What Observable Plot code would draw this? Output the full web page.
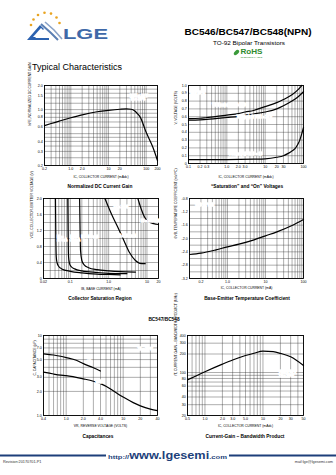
<!DOCTYPE html>
<html><head><meta charset="utf-8">
<script src="https://cdn.jsdelivr.net/npm/d3@7"></script>
<script src="https://cdn.jsdelivr.net/npm/@observablehq/plot@0.6"></script>
<style>
html,body{margin:0;padding:0;background:#fff}
#page{position:relative;width:336px;height:475px;overflow:hidden;background:#fff;font-family:Arial,"Liberation Sans",sans-serif;color:#000}
.cap{position:absolute;white-space:nowrap;font-weight:bold;font-size:4.8px;line-height:1;transform:translate(-50%,-50%)}
#deco{position:absolute;left:0;top:0}
</style></head>
<body><div id="page">
<svg id="deco" width="336" height="475" font-family="Arial, 'Liberation Sans', sans-serif">
  <g fill="#e9a420">
    <circle cx="31" cy="25" r="1.3"/><circle cx="33.5" cy="19.5" r="1.3"/><circle cx="38" cy="15" r="1.3"/>
    <circle cx="44.5" cy="12.8" r="1.3"/><circle cx="51" cy="13.6" r="1.3"/><circle cx="56.5" cy="17.5" r="1.3"/>
    <circle cx="59.5" cy="23" r="1.3"/>
  </g>
  <polygon points="27,40 40,25 44,29 35,38 49,38 49,40" fill="#2c62b0"/>
  <polygon points="33,37 41,28 45,32 40,37" fill="#ffffff"/>
  <polyline points="41,24 51,33 58,40" fill="none" stroke="#5b7fb3" stroke-width="2"/>
  <polyline points="45,22 54,30 62,39" fill="none" stroke="#8aa3c8" stroke-width="1.6"/>
  <text x="63" y="39" font-size="15" font-weight="bold" fill="#3f69a8" textLength="45" lengthAdjust="spacingAndGlyphs">LGE</text>
  <text x="248" y="35" text-anchor="middle" font-size="8.6" font-weight="bold" textLength="127" lengthAdjust="spacingAndGlyphs">BC546/BC547/BC548(NPN)</text>
  <text x="249" y="44.5" text-anchor="middle" font-size="5.2" textLength="72" lengthAdjust="spacingAndGlyphs">TO-92 Bipolar Transistors</text>
  <ellipse cx="236.5" cy="52.5" rx="3.2" ry="1.9" transform="rotate(-45 236.5 52.5)" fill="#3a9a3a"/>
  <text x="240.5" y="54" font-size="7" font-weight="bold" fill="#2e8b2e" textLength="22" lengthAdjust="spacingAndGlyphs">RoHS</text>
  <text x="240.5" y="57.5" font-size="2.2" fill="#2e8b2e" textLength="22" lengthAdjust="spacingAndGlyphs">COMPLIANT</text>
  <text x="32" y="70" font-size="8.5" textLength="90" lengthAdjust="spacingAndGlyphs">Typical Characteristics</text>
  <line x1="0" y1="455.5" x2="106" y2="455.5" stroke="#1d3f7a" stroke-width="2"/>
  <line x1="229" y1="455.5" x2="336" y2="455.5" stroke="#1d3f7a" stroke-width="2"/>
  <text x="108" y="458.5" font-weight="bold" fill="#1d3f7a" textLength="119" lengthAdjust="spacingAndGlyphs"><tspan font-size="6">http://</tspan><tspan font-size="10">www.lgesemi</tspan><tspan font-size="6">.com</tspan></text>
  <text x="3" y="463" font-size="3.8" fill="#333">Revision:20170701-P1</text>
  <text x="333" y="463" font-size="3.8" fill="#333" text-anchor="end">mail:lge@lgesemi.com</text>
</svg>
<div class="cap" style="left:100px;top:186.5px">Normalized DC Current Gain</div>
<div class="cap" style="left:247px;top:186.5px">“Saturation” and “On” Voltages</div>
<div class="cap" style="left:100px;top:298.5px">Collector Saturation Region</div>
<div class="cap" style="left:247px;top:299px">Base-Emitter Temperature Coefficient</div>
<div class="cap" style="left:164px;top:320px">BC547/BC548</div>
<div class="cap" style="left:98px;top:436.5px">Capacitances</div>
<div class="cap" style="left:245px;top:436.5px">Current-Gain – Bandwidth Product</div>
</div>
<script>
// ---------- Fig 1: Normalized DC current gain ----------
const hfeIc   = [0.2, 0.3, 0.5, 1.0, 2.0, 5.0, 10, 20, 30, 40, 50, 60, 70, 100, 150, 200];
const hfeNorm = [0.63, 0.67, 0.72, 0.79, 0.86, 0.94, 0.98, 1.01, 1.02, 1.01, 0.96, 0.88, 0.80, 0.52, 0.34, 0.23];
const hfeXTicks = ["0.2","0.5","1.0","2.0","5.0","10","20","50","100","200"];
const hfeYTicks = ["0.2","0.3","0.4","0.6","0.8","1.0","1.5","2.0"];

// ---------- Fig 2: Saturation and On voltages ----------
const vbeSatIc = [0.1, 0.2, 0.3, 0.5, 1.0, 2.0, 3.0, 5.0, 10, 20, 30, 50, 70, 90];
const vbeSat   = [0.575, 0.58, 0.59, 0.60, 0.62, 0.64, 0.66, 0.68, 0.73, 0.78, 0.82, 0.88, 0.94, 1.0];
const vbeOnIc  = [0.1, 0.2, 0.3, 0.5, 1.0, 2.0, 3.0, 5.0, 10, 20, 30, 50, 70, 100];
const vbeOn    = [0.555, 0.56, 0.565, 0.575, 0.59, 0.605, 0.62, 0.635, 0.66, 0.70, 0.74, 0.80, 0.85, 0.92];
const vceSatIc = [0.1, 1.0, 5.0, 10, 20, 30, 40, 50, 60, 70, 80, 90, 100];
const vceSat   = [0.05, 0.05, 0.055, 0.06, 0.08, 0.10, 0.13, 0.16, 0.19, 0.24, 0.30, 0.38, 0.46];
const satXTicks = ["0.1","0.2","0.3","0.5","0.7","1.0","2.0","3.0","5.0","7.0","10","20","30","50","70","100"];
const satYTicks = ["0","0.1","0.2","0.3","0.4","0.5","0.6","0.7","0.8","0.9","1.0"];

// ---------- Fig 3: Collector saturation region ----------
const csIb10  = [0.041, 0.042, 0.043, 0.045, 0.05, 0.06, 0.1, 0.2, 0.5, 1.0, 2.0];
const csV10   = [2.0, 1.0, 0.55, 0.40, 0.30, 0.24, 0.18, 0.14, 0.11, 0.10, 0.09];
const csIb20  = [0.086, 0.088, 0.09, 0.095, 0.105, 0.13, 0.2, 0.5, 1.0, 3.0];
const csV20   = [2.0, 1.0, 0.55, 0.38, 0.30, 0.24, 0.19, 0.15, 0.13, 0.12];
const csIb50  = [0.175, 0.18, 0.185, 0.2, 0.23, 0.3, 0.5, 1.0, 2.0, 5.0];
const csV50   = [2.0, 1.2, 0.7, 0.45, 0.34, 0.27, 0.22, 0.19, 0.17, 0.16];
const csIb100 = [0.8, 1.2, 1.7, 2.5, 3.5, 5.0, 6.5, 9.0];
const csV100  = [2.0, 1.6, 1.3, 0.95, 0.65, 0.45, 0.38, 0.37];
const csIb200 = [5.8, 7.0, 8.5, 10, 12, 15, 20];
const csV200  = [2.0, 1.75, 1.55, 1.45, 1.40, 1.37, 1.35];
const csXTicks = ["0.02","0.1","1.0","10","20"];
const csYTicks = ["0","0.4","0.8","1.2","1.6","2.0"];

// ---------- Fig 4: Base-emitter temperature coefficient ----------
const tcIc    = [0.1, 0.2, 0.5, 1.0, 2.0, 5.0, 10, 20, 50, 100];
const tcTheta = [-2.48, -2.44, -2.34, -2.25, -2.17, -2.04, -1.92, -1.80, -1.61, -1.43];
const tcXTicks = ["0.2","1.0","10","100"];
const tcYTicks = ["-3.2","-2.8","-2.4","-2.0","-1.6","-1.2","-0.8"];

// ---------- Fig 5: Capacitances ----------
const cibVr = [0.4, 0.6, 0.8, 1.0, 1.5, 2.0, 3.0, 4.0];
const cib   = [5.9, 5.7, 5.5, 5.3, 4.9, 4.45, 3.95, 3.6];
const cobVr = [0.4, 0.6, 0.8, 1.0, 2.0, 3.0, 4.0, 6.0, 8.0, 10, 15, 20, 30, 40];
const cob   = [3.48, 3.3, 3.2, 3.15, 2.87, 2.68, 2.5, 2.15, 1.87, 1.7, 1.45, 1.32, 1.2, 1.15];
const capXTicks = ["0.4","0.6","0.8","1.0","2.0","4.0","6.0","8.0","10","20","40"];
const capYTicks = ["1.0","2.0","3.0","5.0","7.0","10"];

// ---------- Fig 6: Current-gain bandwidth product ----------
const ftIc = [0.5, 0.7, 1.0, 2.0, 3.0, 5.0, 7.0, 10, 15, 20, 30, 50];
const ft   = [76, 88, 103, 137, 160, 189, 206, 222, 218, 205, 180, 130];
const ftXTicks = ["0.5","0.7","1.0","2.0","3.0","5.0","7.0","10","20","30","50"];
const ftYTicks = ["20","30","40","60","80","100","200","300","400"];

// ---------- helpers ----------
const FONT = 'Arial, "Liberation Sans", sans-serif';
const page = document.getElementById("page");
function logGrid(lo, hi) {
  const out = [];
  for (let e = Math.floor(Math.log10(lo)) ; e <= Math.ceil(Math.log10(hi)); e++)
    for (let m = 1; m <= 9; m++) { const v = +(m * Math.pow(10, e)).toPrecision(6); if (v >= lo * 0.999 && v <= hi * 1.001) out.push(v); }
  return out;
}
function linGrid(lo, hi, step) { const out = []; for (let v = lo; v <= hi + 1e-9; v += step) out.push(+v.toFixed(6)); return out; }
function rows(xs, ys, s) { return xs.map((x, i) => ({x, y: ys[i], s})); }

function chart(o) {
  const ml = 24, mr = 8, mt = 4, mb = 18;
  const fw = o.f[1] - o.f[0], fh = o.f[3] - o.f[2];
  const xv = o.xTicks.map(Number), yv = o.yTicks.map(Number);
  const xm = new Map(xv.map((v, i) => [v, o.xTicks[i]]));
  const ym = new Map(yv.map((v, i) => [v, o.yTicks[i]]));
  const svg = Plot.plot({
    width: ml + fw + mr, height: mt + fh + mb,
    marginLeft: ml, marginRight: mr, marginTop: mt, marginBottom: mb,
    style: {fontFamily: FONT, fontSize: "3.6px", background: "transparent", overflow: "visible", color: "#000"},
    x: {type: o.xType, domain: o.xDomain},
    y: {type: o.yType, domain: o.yDomain},
    marks: [
      Plot.ruleX(o.xGrid, {stroke: "#333", strokeWidth: 0.4}),
      Plot.ruleY(o.yGrid, {stroke: "#333", strokeWidth: 0.4}),
      Plot.axisX({ticks: xv, tickFormat: d => xm.get(d), tickSize: 0, tickPadding: 2.2, label: null}),
      Plot.axisY({ticks: yv, tickFormat: d => ym.get(d), tickSize: 0, tickPadding: 1.8, label: null}),
      Plot.frame({stroke: "#000", strokeWidth: 0.9}),
      ...o.marks,
      Plot.text([o.xLabel], {frameAnchor: "bottom", dy: o.xdy, fontSize: 3.4}),
      Plot.text([o.yLabel], {frameAnchor: "left", rotate: -90, dx: o.ydx, fontSize: 3.4})
    ]
  });
  svg.style.position = "absolute";
  svg.style.left = (o.f[0] - ml) + "px";
  svg.style.top = (o.f[2] - mt) + "px";
  page.appendChild(svg);
}
const curve = (data, extra = {}) => Plot.line(data, {x: "x", y: "y", z: "s", curve: "monotone-x", stroke: "#000", strokeWidth: 1.2, ...extra});
const note = (txt, x, y, extra = {}) => Plot.text([txt], {x: () => x, y: () => y, fontSize: 3.3, stroke: "white", strokeWidth: 1.5, lineHeight: 1.1, ...extra});

// Fig 1
chart({
  f: [44, 157, 85, 165], xType: "log", yType: "log", xDomain: [0.2, 200], yDomain: [0.2, 2.0],
  xTicks: hfeXTicks, yTicks: hfeYTicks,
  xGrid: logGrid(0.2, 200),
  yGrid: [0.2,0.25,0.3,0.35,0.4,0.45,0.5,0.6,0.7,0.8,0.9,1.0,1.2,1.4,1.6,1.8,2.0],
  xLabel: "IC, COLLECTOR CURRENT (mAdc)", yLabel: "hFE, NORMALIZED DC CURRENT GAIN", xdy: 12, ydx: -15,
  marks: [
    curve(rows(hfeIc, hfeNorm, "h")),
    note("VCE = 10 V\nTA = 25°C", 38, 1.42, {textAnchor: "start"})
  ]
});

// Fig 2
chart({
  f: [188, 303, 85, 163], xType: "log", yType: "linear", xDomain: [0.1, 100], yDomain: [0, 1.0],
  xTicks: satXTicks, yTicks: satYTicks,
  xGrid: logGrid(0.1, 100), yGrid: linGrid(0, 1, 0.1),
  xLabel: "IC, COLLECTOR CURRENT (mAdc)", yLabel: "V, VOLTAGE (VOLTS)", xdy: 14, ydx: -13,
  marks: [
    curve(rows(vbeSatIc, vbeSat, "a")),
    curve(rows(vbeOnIc, vbeOn, "b")),
    curve(rows(vceSatIc, vceSat, "c")),
    note("TA = 25°C", 0.17, 0.91),
    note("VBE(sat) @ IC/IB = 10", 1.14, 0.75),
    note("VBE(on) @ VCE = 10 V", 5.3, 0.60),
    note("VCE(sat) @ IC/IB = 10", 3.07, 0.12)
  ]
});

// Fig 3
chart({
  f: [43, 158, 198, 278], xType: "log", yType: "linear", xDomain: [0.02, 20], yDomain: [0, 2.0],
  xTicks: csXTicks, yTicks: csYTicks,
  xGrid: logGrid(0.02, 20), yGrid: linGrid(0, 2, 0.2),
  xLabel: "IB, BASE CURRENT (mA)", yLabel: "VCE, COLLECTOR-EMITTER VOLTAGE (V)", xdy: 11, ydx: -11.5,
  marks: [
    curve([...rows(csIb10, csV10, 10), ...rows(csIb20, csV20, 20), ...rows(csIb50, csV50, 50),
           ...rows(csIb100, csV100, 100), ...rows(csIb200, csV200, 200)]),
    note("TA = 25°C", 1.33, 1.78, {textAnchor: "start"}),
    note("IC =\n10 mA", 0.046, 1.0, {textAnchor: "start"}),
    note("IC =\n20 mA", 0.101, 1.0, {textAnchor: "start"}),
    note("IC = 50 mA", 0.196, 1.03, {textAnchor: "start"}),
    note("IC = 100 mA", 1.7, 1.07, {textAnchor: "start"}),
    note("IC = 200 mA", 6.9, 1.43, {textAnchor: "start"})
  ]
});

// Fig 4
chart({
  f: [189, 303, 198, 278], xType: "log", yType: "linear", xDomain: [0.1, 100], yDomain: [-3.2, -0.8],
  xTicks: tcXTicks, yTicks: tcYTicks,
  xGrid: logGrid(0.1, 100), yGrid: linGrid(-3.2, -0.8, 0.2),
  xLabel: "IC, COLLECTOR CURRENT (mA)", yLabel: "θVB, TEMPERATURE COEFFICIENT (mV/°C)", xdy: 10, ydx: -14,
  marks: [
    curve(rows(tcIc, tcTheta, "t")),
    note("θVB for VBE", 0.144, -0.99, {textAnchor: "start"})
  ]
});

// Fig 5
chart({
  f: [43, 157, 335, 415], xType: "log", yType: "log", xDomain: [0.4, 40], yDomain: [1, 10],
  xTicks: capXTicks, yTicks: capYTicks,
  xGrid: logGrid(0.4, 40), yGrid: logGrid(1, 10),
  xLabel: "VR, REVERSE VOLTAGE (VOLTS)", yLabel: "C, CAPACITANCE (pF)", xdy: 11, ydx: -8.5,
  marks: [
    curve(rows(cibVr, cib, "ib")),
    curve(rows(cobVr, cob, "ob")),
    note("Cib", 2.3, 4.73, {textAnchor: "start"}),
    note("Cob", 3.3, 2.61, {textAnchor: "start"}),
    note("TA = 25°C", 18, 6.8, {textAnchor: "start"})
  ]
});

// Fig 6
chart({
  f: [187, 303, 335, 415], xType: "log", yType: "log", xDomain: [0.5, 50], yDomain: [20, 400],
  xTicks: ftXTicks, yTicks: ftYTicks,
  xGrid: logGrid(0.5, 50), yGrid: logGrid(20, 400),
  xLabel: "IC, COLLECTOR CURRENT (mAdc)", yLabel: "fT, CURRENT-GAIN – BANDWIDTH PRODUCT (MHz)", xdy: 11, ydx: -12,
  marks: [
    curve(rows(ftIc, ft, "f")),
    note("VCE = 10 V\nTA = 25°C", 18.8, 96, {textAnchor: "start"})
  ]
});
</script>
</body></html>
